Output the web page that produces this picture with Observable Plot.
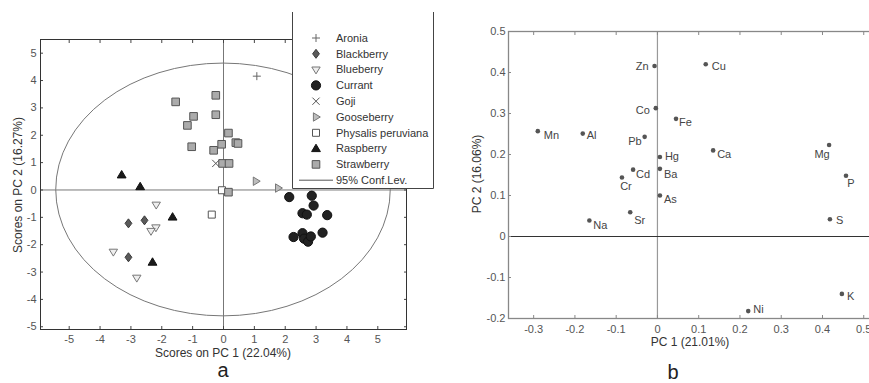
<!DOCTYPE html>
<html><head><meta charset="utf-8">
<script src="https://cdn.jsdelivr.net/npm/d3@7"></script>
<script src="https://cdn.jsdelivr.net/npm/@observablehq/plot@0.6"></script>
<style>
html,body{margin:0;padding:0;background:#fff;overflow:hidden;width:869px;height:383px}
#wrap{position:relative;width:869px;height:383px;overflow:hidden;font-family:"Liberation Sans",Arial,sans-serif}
.t{position:absolute;white-space:nowrap;color:#333;font-size:12px;transform:translate(-50%,-50%);line-height:1}
.rot{transform:translate(-50%,-50%) rotate(-90deg)}
.big{font-size:20px;color:#222}
</style></head><body><div id="wrap"></div>
<script>
// ---------- DATA ----------
// Panel a: PCA scores
const fruits = ["Aronia","Blackberry","Blueberry","Currant","Goji","Gooseberry","Physalis peruviana","Raspberry","Strawberry"];
const scoreFruit = [
  "Aronia",
  "Blackberry","Blackberry","Blackberry",
  "Blueberry","Blueberry","Blueberry","Blueberry","Blueberry",
  "Currant","Currant","Currant","Currant","Currant","Currant","Currant","Currant","Currant","Currant","Currant","Currant",
  "Goji",
  "Gooseberry","Gooseberry",
  "Physalis peruviana","Physalis peruviana",
  "Raspberry","Raspberry","Raspberry","Raspberry",
  "Strawberry","Strawberry","Strawberry","Strawberry","Strawberry","Strawberry","Strawberry","Strawberry","Strawberry","Strawberry","Strawberry","Strawberry","Strawberry","Strawberry"
];
const scorePC1 = [
  1.08,
  -3.08,-2.56,-3.08,
  -2.18,-2.19,-2.35,-3.57,-2.81,
  2.13,2.86,2.92,2.56,2.70,3.36,2.27,2.56,2.61,2.74,2.83,3.21,
  -0.25,
  1.05,1.77,
  -0.05,-0.38,
  -3.30,-2.70,-1.65,-2.30,
  -1.55,-0.25,-0.25,-0.97,-1.17,0.16,-1.03,-0.32,-0.06,0.40,0.47,-0.03,0.18,0.16
];
const scorePC2 = [
  4.16,
  -1.22,-1.11,-2.46,
  -0.54,-1.37,-1.50,-2.26,-3.21,
  -0.26,-0.21,-0.57,-0.85,-0.90,-0.92,-1.72,-1.58,-1.78,-1.89,-1.70,-1.56,
  0.97,
  0.32,0.07,
  -0.01,-0.90,
  0.55,0.12,-0.99,-2.64,
  3.22,3.46,2.75,2.69,2.36,2.08,1.58,1.45,1.67,1.73,1.70,0.97,0.97,-0.08
];
const confEllipse = [{cx: 0, cy: 0, rx: 5.42, ry: 4.62}];
const xTicksA = [-5,-4,-3,-2,-1,0,1,2,3,4,5];
const yTicksA = [-5,-4,-3,-2,-1,0,1,2,3,4,5];

// Panel b: loadings
const elements = ["Mn","Al","Zn","Co","Pb","Hg","Cd","Ba","Cr","As","Cu","Fe","Ca","Mg","P","Na","Sr","S","K","Ni"];
const loadPC1 = [-0.290,-0.181,-0.007,-0.004,-0.031,0.006,-0.059,0.006,-0.086,0.006,0.117,0.045,0.135,0.416,0.457,-0.165,-0.066,0.418,0.447,0.220];
const loadPC2 = [0.257,0.251,0.416,0.313,0.243,0.194,0.163,0.165,0.144,0.100,0.420,0.287,0.210,0.223,0.148,0.039,0.059,0.042,-0.140,-0.182];
const xTicksB = [-0.3,-0.2,-0.1,0,0.1,0.2,0.3,0.4,0.5];
const yTicksB = [-0.2,-0.1,0,0.1,0.2,0.3,0.4,0.5];

// ---------- STYLE ----------
function shape(draw) { return {draw(c, size) { draw(c, Math.sqrt(size / 50)); }}; }
const poly = (pts) => shape((c, s) => { c.moveTo(pts[0][0]*s, pts[0][1]*s); for (const [x, y] of pts.slice(1)) c.lineTo(x*s, y*s); c.closePath(); });
const symbols = {
  "Aronia": shape((c, s) => { c.moveTo(-4*s, 0); c.lineTo(4*s, 0); c.moveTo(0, -4*s); c.lineTo(0, 4*s); }),
  "Blackberry": poly([[0,-4.5],[3.4,0],[0,4.5],[-3.4,0]]),
  "Blueberry": poly([[-4.2,-2.6],[4.2,-2.6],[0,4.3]]),
  "Currant": shape((c, s) => { const r = 4.6*s; c.moveTo(r, 0); c.arc(0, 0, r, 0, 2*Math.PI); }),
  "Goji": shape((c, s) => { const r = 3.6*s; c.moveTo(-r,-r); c.lineTo(r,r); c.moveTo(-r,r); c.lineTo(r,-r); }),
  "Gooseberry": poly([[-2.6,-4.2],[4.3,0],[-2.6,4.2]]),
  "Physalis peruviana": poly([[-3.5,-3.5],[3.5,-3.5],[3.5,3.5],[-3.5,3.5]]),
  "Raspberry": poly([[0,-4.4],[4.4,3],[-4.4,3]]),
  "Strawberry": poly([[-3.8,-3.8],[3.8,-3.8],[3.8,3.8],[-3.8,3.8]])
};
const styles = {
  "Aronia": {fill: "none", stroke: "#666"},
  "Blackberry": {fill: "#5a5a5a", stroke: "#3a3a3a"},
  "Blueberry": {fill: "#eeeeee", stroke: "#777"},
  "Currant": {fill: "#222", stroke: "#111"},
  "Goji": {fill: "none", stroke: "#555"},
  "Gooseberry": {fill: "#bdbdbd", stroke: "#777"},
  "Physalis peruviana": {fill: "#fff", stroke: "#555"},
  "Raspberry": {fill: "#1a1a1a", stroke: "#111"},
  "Strawberry": {fill: "#ababab", stroke: "#555"}
};
// label placement for panel b: [textAnchor, dx, dy]
const labelPlace = {
  Mn:["start",6,4], Al:["start",4,2], Zn:["end",-6,1], Co:["end",-6,2], Pb:["end",-3,5],
  Hg:["start",5,0], Cd:["start",3,5], Ba:["start",4,6], Cr:["middle",4,9], As:["start",4,4],
  Cu:["start",6,2], Fe:["start",3,4], Ca:["start",4,4], Mg:["middle",-7,9], P:["middle",5,8],
  Na:["start",4,5], Sr:["start",4,8], S:["start",6,1], K:["start",5,3], Ni:["start",5,-2]
};
const fmt = d => String(d);
const font = "Liberation Sans, Arial, sans-serif";

const wrap = document.getElementById("wrap");

// ---------- PANEL A ----------
function ellipseMark(index, scales) {
  const g = d3.create("svg:g");
  for (const e of confEllipse) {
    g.append("ellipse")
      .attr("cx", scales.x(e.cx)).attr("cy", scales.y(e.cy))
      .attr("rx", Math.abs(scales.x(e.cx + e.rx) - scales.x(e.cx)))
      .attr("ry", Math.abs(scales.y(e.cy + e.ry) - scales.y(e.cy)))
      .attr("fill", "none").attr("stroke", "#777").attr("stroke-width", 1);
  }
  return g.node();
}
const idxA = d3.range(scoreFruit.length);
const plotA = Plot.plot({
  width: 440, height: 383,
  marginLeft: 40, marginRight: 34, marginTop: 39, marginBottom: 54,
  x: {domain: [-5.93, 5.93]},
  y: {domain: [-5.1, 5.5]},
  style: {fontFamily: font, fontSize: "11px", color: "#555", background: "transparent"},
  marks: [
    ellipseMark,
    Plot.ruleX([0], {stroke: "#777"}),
    Plot.ruleY([0], {stroke: "#777"}),
    ...fruits.map(f => Plot.dot(idxA.filter(i => scoreFruit[i] === f), {
      x: i => scorePC1[i], y: i => scorePC2[i], symbol: symbols[f], r: 4, strokeWidth: 1, ...styles[f]
    })),
    Plot.axisX(xTicksA, {anchor: "bottom", tickSize: -3, tickPadding: 9, tickFormat: fmt, label: null, stroke: "#444"}),
    Plot.axisX(xTicksA, {anchor: "top", tickSize: -3, tickFormat: () => "", label: null, stroke: "#444"}),
    Plot.axisY(yTicksA, {anchor: "left", tickSize: -3, tickPadding: 7, tickFormat: fmt, label: null, stroke: "#444"}),
    Plot.axisY(yTicksA, {anchor: "right", tickSize: -3, tickFormat: () => "", label: null, stroke: "#444"}),
    Plot.frame({stroke: "#333"})
  ]
});
plotA.style.position = "absolute"; plotA.style.left = "0px"; plotA.style.top = "0px";
wrap.appendChild(plotA);

// ---------- PANEL B ----------
const idxB = d3.range(elements.length);
const plotB = Plot.plot({
  width: 448, height: 383,
  marginLeft: 58, marginRight: 10, marginTop: 31, marginBottom: 65,
  x: {domain: [-0.361, 0.56]},
  y: {domain: [-0.2, 0.5]},
  style: {fontFamily: font, fontSize: "11px", color: "#555", background: "transparent"},
  marks: [
    Plot.ruleX([0], {stroke: "#999", strokeWidth: 1.2}),
    Plot.ruleY([0], {stroke: "#333"}),
    Plot.dot(idxB, {x: i => loadPC1[i], y: i => loadPC2[i], r: 2.3, fill: "#555"}),
    ...elements.map((el, j) => Plot.text([j], {
      x: i => loadPC1[i], y: i => loadPC2[i], text: i => elements[i],
      textAnchor: labelPlace[el][0], dx: labelPlace[el][1], dy: labelPlace[el][2],
      fill: "#444", fontSize: 11
    })),
    Plot.axisX(xTicksB, {anchor: "bottom", tickSize: -3, tickPadding: 10, tickFormat: fmt, label: null, stroke: "#888"}),
    Plot.axisX(xTicksB, {anchor: "top", tickSize: -3, tickFormat: () => "", label: null, stroke: "#888"}),
    Plot.axisY(yTicksB, {anchor: "left", tickSize: -3, tickPadding: 6, tickFormat: fmt, label: null, stroke: "#888"}),
    Plot.frame({stroke: "#888", strokeWidth: 1.3})
  ]
});
plotB.style.position = "absolute"; plotB.style.left = "450px"; plotB.style.top = "0px";
wrap.appendChild(plotB);

// ---------- LEGEND (panel a) ----------
const lg = d3.create("svg").attr("width", 142).attr("height", 177)
  .style("position", "absolute").style("left", "292px").style("top", "12px");
lg.append("rect").attr("x", 0).attr("y", 0).attr("width", 142).attr("height", 177).attr("fill", "#fff");
lg.append("path").attr("d", "M0.5,0V176.5H141.5V0").attr("fill", "none").attr("stroke", "#444");
fruits.forEach((f, i) => {
  const y = 26 + i * 15.8;
  const p = d3.path(); symbols[f].draw(p, 50);
  lg.append("path").attr("d", p.toString()).attr("transform", `translate(24,${y})`)
    .attr("fill", styles[f].fill).attr("stroke", styles[f].stroke);
  lg.append("text").attr("x", 44).attr("y", y).attr("dy", "0.35em").text(f)
    .attr("font-family", font).attr("font-size", 11).attr("fill", "#333");
});
{
  const y = 26 + fruits.length * 15.8;
  lg.append("line").attr("x1", 7).attr("x2", 41).attr("y1", y).attr("y2", y).attr("stroke", "#555");
  lg.append("text").attr("x", 44).attr("y", y).attr("dy", "0.35em").text("95% Conf.Lev.")
    .attr("font-family", font).attr("font-size", 11).attr("fill", "#333");
}
wrap.appendChild(lg.node());

// ---------- TITLES ----------
function title(txt, x, y, cls) {
  const d = document.createElement("div");
  d.className = "t " + (cls || ""); d.textContent = txt;
  d.style.left = x + "px"; d.style.top = y + "px";
  wrap.appendChild(d);
}
title("Scores on PC 1 (22.04%)", 223, 353);
title("Scores on PC 2 (16.27%)", 17.5, 185, "rot");
title("a", 223, 370, "big");
title("PC 1 (21.01%)", 690, 342);
title("PC 2 (16.06%)", 477, 174, "rot");
title("b", 673, 372, "big");
</script></body></html>
